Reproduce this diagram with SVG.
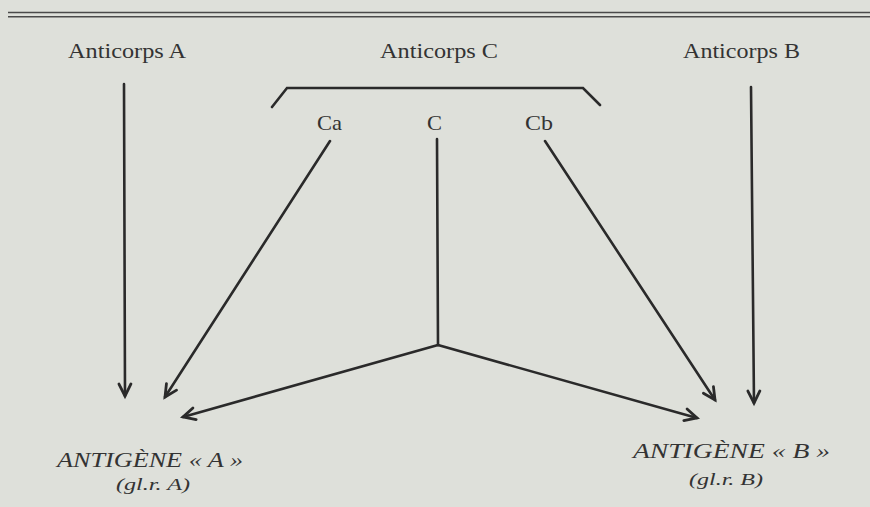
<svg xmlns="http://www.w3.org/2000/svg" width="870" height="507" viewBox="0 0 870 507">
<style>
.lbl{font-family:"Liberation Serif","DejaVu Serif",serif;fill:#333;font-size:22px}
.it{font-family:"Liberation Serif","DejaVu Serif",serif;fill:#333;font-style:italic}
.ln{stroke:#2a2a2a;stroke-width:2.6;fill:none;stroke-linecap:round}
</style>
<defs>
<marker id="ah" markerUnits="userSpaceOnUse" markerWidth="30" markerHeight="30" viewBox="-15 -15 30 30" refX="0" refY="0" orient="auto">
<path d="M-12,-6 L0,0 L-12,6" fill="none" stroke="#2a2a2a" stroke-width="2.8" stroke-linejoin="miter" stroke-linecap="round"/>
</marker>
</defs>
<rect width="870" height="507" fill="#dee0da"/>
<g id="rule">
<line x1="8" y1="12.5" x2="870" y2="12.5" stroke="#4a4a4a" stroke-width="1.6"/>
<line x1="8" y1="16.8" x2="870" y2="16.8" stroke="#4a4a4a" stroke-width="1.6"/>
</g>
<g id="anticorpsA"><text class="lbl" x="68" y="58" textLength="118" lengthAdjust="spacingAndGlyphs">Anticorps A</text></g>
<g id="anticorpsC"><text class="lbl" x="380" y="58" textLength="118" lengthAdjust="spacingAndGlyphs">Anticorps C</text>
<polyline class="ln" points="272,107 287,88 583,88 600,105"/></g>
<g id="anticorpsB"><text class="lbl" x="683" y="58" textLength="117" lengthAdjust="spacingAndGlyphs">Anticorps B</text></g>
<g id="Ca"><text class="lbl" x="317" y="130" textLength="25" lengthAdjust="spacingAndGlyphs">Ca</text></g>
<g id="C"><text class="lbl" x="427" y="130" textLength="15" lengthAdjust="spacingAndGlyphs">C</text></g>
<g id="Cb"><text class="lbl" x="525" y="130" textLength="28" lengthAdjust="spacingAndGlyphs">Cb</text></g>
<g id="antigeneA">
<text class="it" x="57" y="467" font-size="20" textLength="186" lengthAdjust="spacingAndGlyphs">ANTIGÈNE « A »</text>
<text class="it" x="116" y="490" font-size="17" textLength="74" lengthAdjust="spacingAndGlyphs">(gl.r. A)</text>
</g>
<g id="antigeneB">
<text class="it" x="633" y="458" font-size="20" textLength="197" lengthAdjust="spacingAndGlyphs">ANTIGÈNE « B »</text>
<text class="it" x="689" y="485" font-size="17" textLength="74" lengthAdjust="spacingAndGlyphs">(gl.r. B)</text>
</g>
<g id="connectors">
<line class="ln" x1="124" y1="84" x2="125" y2="396" marker-end="url(#ah)"/>
<line class="ln" x1="330" y1="141" x2="165" y2="397" marker-end="url(#ah)"/>
<line class="ln" x1="437" y1="139" x2="438" y2="345"/>
<line class="ln" x1="438" y1="345" x2="183" y2="417" marker-end="url(#ah)"/>
<line class="ln" x1="438" y1="345" x2="697" y2="418" marker-end="url(#ah)"/>
<line class="ln" x1="545" y1="141" x2="715" y2="400" marker-end="url(#ah)"/>
<line class="ln" x1="751" y1="87" x2="754" y2="403" marker-end="url(#ah)"/>
</g>
</svg>
